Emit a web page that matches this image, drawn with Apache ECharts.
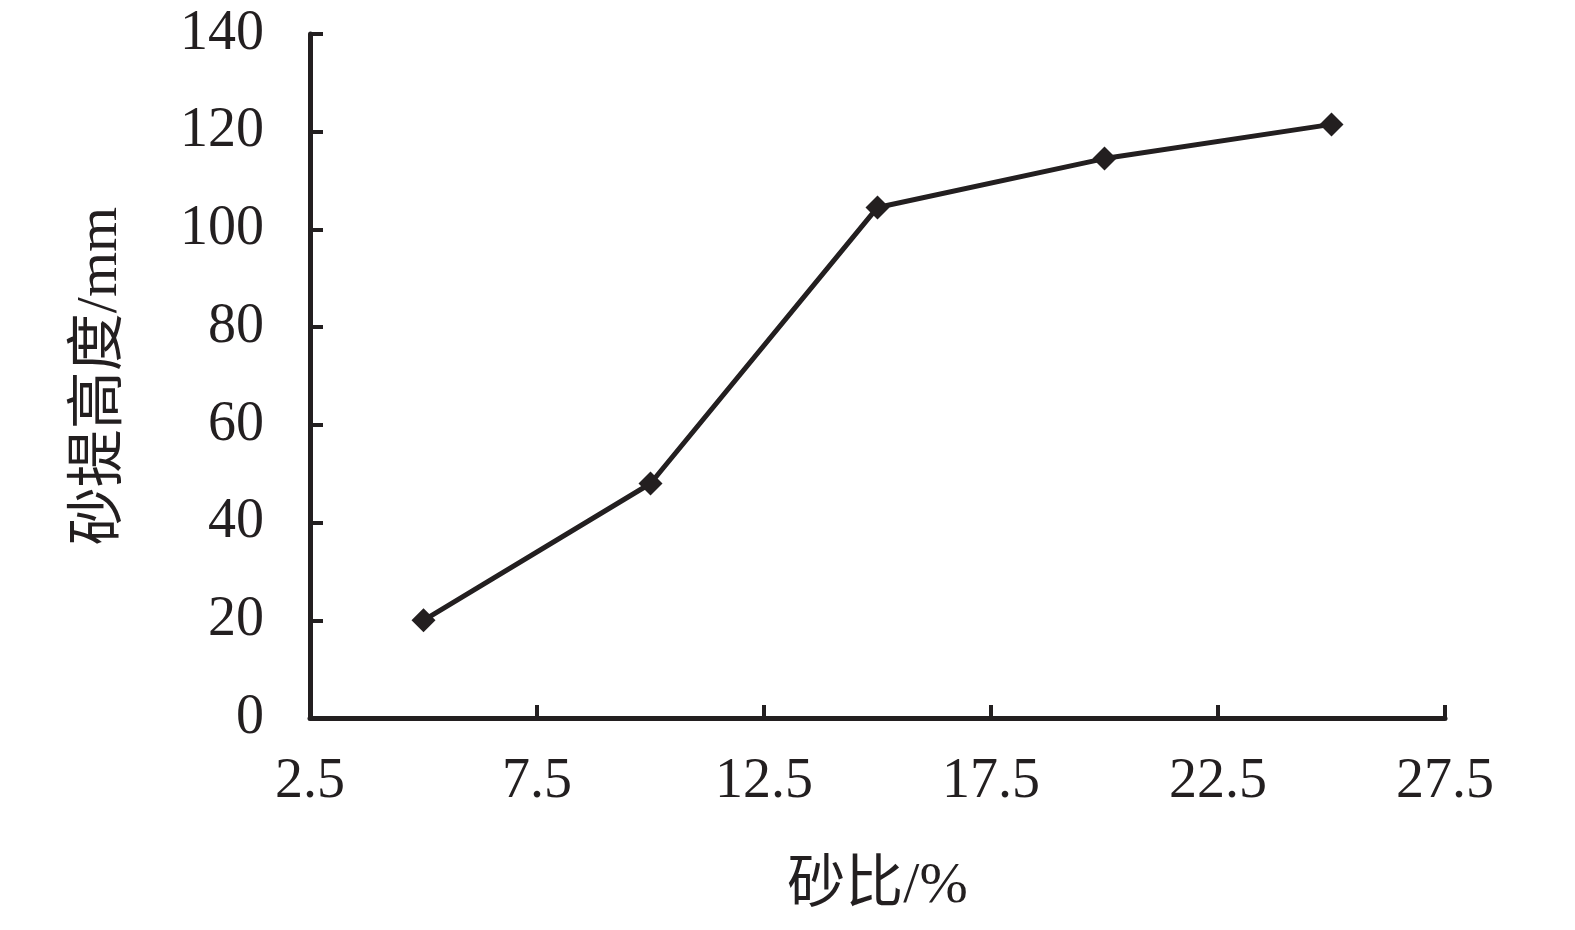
<!DOCTYPE html>
<html>
<head>
<meta charset="utf-8">
<script src="https://cdn.jsdelivr.net/npm/echarts@6/dist/echarts.min.js"></script>
<style>
html,body{margin:0;padding:0;background:#fff;}
#c{width:1575px;height:930px;}
</style>
</head>
<body>
<div id="c"></div>
<script>
const sandRatio = [5, 10, 15, 20, 25];
const dikeHeight = [20, 48, 104.5, 114.5, 121.5];
const xTitle = '砂比/%';
const yTitle = '砂提高度/mm';

const ink = '#231f20';
const serif = '"Liberation Serif","Times New Roman","Noto Sans CJK SC",serif';
const cjk = '"Liberation Serif","Noto Sans CJK SC",serif';

const chart = echarts.init(document.getElementById('c'));
chart.setOption({
  animation: false,
  backgroundColor: '#fff',
  grid: {left: 310, right: 130, top: 34, bottom: 212, containLabel: false},
  xAxis: {
    type: 'value',
    min: 2.5, max: 27.5, interval: 5,
    name: xTitle,
    nameLocation: 'middle',
    nameGap: 140,
    nameTextStyle: {color: ink, fontSize: 58, fontFamily: cjk},
    axisLine: {show: true, onZero: false, lineStyle: {color: ink, width: 5}},
    axisTick: {show: true, inside: true, length: 13, lineStyle: {color: ink, width: 4}},
    axisLabel: {color: ink, fontSize: 56, fontFamily: serif, margin: 36,
      formatter: v => v.toFixed(1)},
    splitLine: {show: false}
  },
  yAxis: {
    type: 'value',
    min: 0, max: 140, interval: 20,
    name: yTitle,
    nameLocation: 'middle',
    nameGap: 180,
    nameRotate: 90,
    nameTextStyle: {color: ink, fontSize: 58, fontFamily: cjk},
    axisLine: {show: true, lineStyle: {color: ink, width: 5}},
    axisTick: {show: true, inside: true, length: 13, lineStyle: {color: ink, width: 4}},
    axisLabel: {color: ink, fontSize: 56, fontFamily: serif, margin: 46},
    splitLine: {show: false}
  },
  series: [{
    type: 'line',
    data: sandRatio.map((x, i) => [x, dikeHeight[i]]),
    symbol: 'diamond',
    symbolSize: 24,
    lineStyle: {color: ink, width: 5},
    itemStyle: {color: ink},
    z: 3
  }]
});
</script>
</body>
</html>
